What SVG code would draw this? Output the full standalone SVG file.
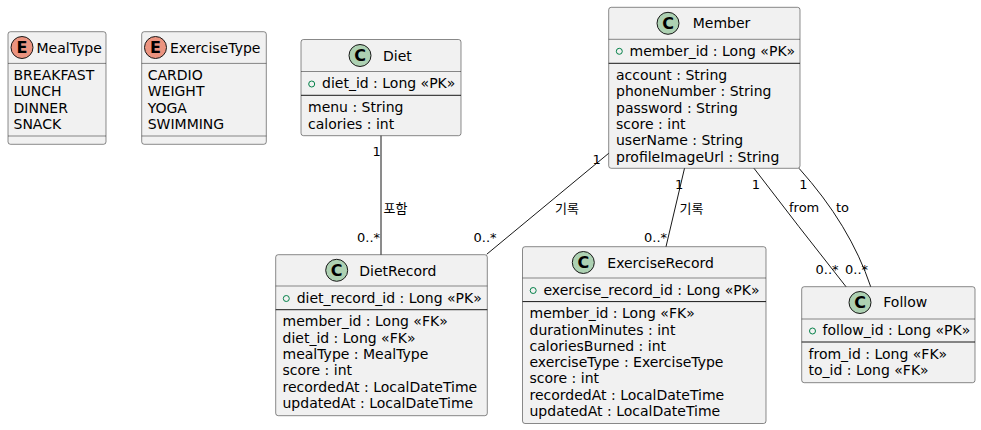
<svg xmlns="http://www.w3.org/2000/svg" width="981" height="430" viewBox="0 0 981 430">
<style>
.box{fill:#F1F1F1;stroke:#181818;stroke-width:0.5}
.sep{stroke:#181818;stroke-width:0.5}
.sepk{stroke:#181818;stroke-width:1}
.cc{fill:#ADD1B2;stroke:#181818;stroke-width:1}
.ec{fill:#EB937F;stroke:#181818;stroke-width:1}
.lt{font-family:"DejaVu Sans",sans-serif;font-size:16px;font-weight:bold;fill:#000;text-anchor:middle}
.t{font-family:"DejaVu Sans",sans-serif;font-size:14px;fill:#000}
.vis{fill:none;stroke:#038048;stroke-width:1}
.lk{fill:none;stroke:#181818;stroke-width:1}
.lb{font-family:"DejaVu Sans","Noto Sans CJK KR",sans-serif;font-size:13px;fill:#000}
</style>
<g id="MealType">
<rect class="box" x="8" y="31.7" width="98" height="112.6" rx="2.5"/>
<circle class="ec" cx="22" cy="47.5" r="11"/>
<text class="lt" x="22" y="53.3">E</text>
<text class="t" x="36.5" y="52.5">MealType</text>
<line class="sep" x1="8" y1="63.4" x2="106" y2="63.4"/>
<text class="t" x="13.5" y="80">BREAKFAST</text>
<text class="t" x="13.5" y="96.3">LUNCH</text>
<text class="t" x="13.5" y="112.6">DINNER</text>
<text class="t" x="13.5" y="128.9">SNACK</text>
<line class="sep" x1="8" y1="136" x2="106" y2="136"/>
</g>
<g id="ExerciseType">
<rect class="box" x="141.7" y="31.7" width="124.6" height="112.6" rx="2.5"/>
<circle class="ec" cx="155.5" cy="47.5" r="11"/>
<text class="lt" x="155.5" y="53.3">E</text>
<text class="t" x="170" y="52.5">ExerciseType</text>
<line class="sep" x1="141.7" y1="63.4" x2="266.3" y2="63.4"/>
<text class="t" x="147.7" y="80">CARDIO</text>
<text class="t" x="147.7" y="96.3">WEIGHT</text>
<text class="t" x="147.7" y="112.6">YOGA</text>
<text class="t" x="147.7" y="128.9">SWIMMING</text>
<line class="sep" x1="141.7" y1="136" x2="266.3" y2="136"/>
</g>
<g id="Diet">
<rect class="box" x="301" y="39.5" width="160" height="96.2" rx="2.5"/>
<circle class="cc" cx="360" cy="55.5" r="11"/>
<text class="lt" x="360" y="61.3">C</text>
<text class="t" x="383" y="60.5">Diet</text>
<line class="sep" x1="301" y1="71.5" x2="461" y2="71.5"/>
<circle class="vis" cx="311.7" cy="84" r="3"/>
<text class="t" x="322" y="88.3">diet_id : Long «PK»</text>
<line class="sepk" x1="301" y1="95.3" x2="461" y2="95.3"/>
<text class="t" x="308" y="112.3">menu : String</text>
<text class="t" x="308" y="128.6">calories : int</text>
</g>
<g id="Member">
<rect class="box" x="608.7" y="7.3" width="191.3" height="161" rx="2.5"/>
<circle class="cc" cx="668" cy="23.3" r="11"/>
<text class="lt" x="668" y="29.1">C</text>
<text class="t" x="692.7" y="28.2">Member</text>
<line class="sep" x1="608.7" y1="39.3" x2="800" y2="39.3"/>
<circle class="vis" cx="619.3" cy="51.3" r="3"/>
<text class="t" x="629.5" y="55.5">member_id : Long «PK»</text>
<line class="sepk" x1="608.7" y1="63.3" x2="800" y2="63.3"/>
<text class="t" x="616" y="80">account : String</text>
<text class="t" x="616" y="96.3">phoneNumber : String</text>
<text class="t" x="616" y="112.6">password : String</text>
<text class="t" x="616" y="128.9">score : int</text>
<text class="t" x="616" y="145.2">userName : String</text>
<text class="t" x="616" y="161.5">profileImageUrl : String</text>
</g>
<g id="DietRecord">
<rect class="box" x="275.7" y="254.7" width="211.6" height="161" rx="2.5"/>
<circle class="cc" cx="336.7" cy="270.3" r="11"/>
<text class="lt" x="336.7" y="276.1">C</text>
<text class="t" x="359.3" y="275.5">DietRecord</text>
<line class="sep" x1="275.7" y1="286" x2="487.3" y2="286"/>
<circle class="vis" cx="286.3" cy="298.5" r="3"/>
<text class="t" x="296.7" y="302.6">diet_record_id : Long «PK»</text>
<line class="sepk" x1="275.7" y1="309.7" x2="487.3" y2="309.7"/>
<text class="t" x="282.5" y="326.3">member_id : Long «FK»</text>
<text class="t" x="282.5" y="342.6">diet_id : Long «FK»</text>
<text class="t" x="282.5" y="358.9">mealType : MealType</text>
<text class="t" x="282.5" y="375.2">score : int</text>
<text class="t" x="282.5" y="391.5">recordedAt : LocalDateTime</text>
<text class="t" x="282.5" y="407.8">updatedAt : LocalDateTime</text>
</g>
<g id="ExerciseRecord">
<rect class="box" x="522.5" y="246.7" width="243.5" height="176.8" rx="2.5"/>
<circle class="cc" cx="583.3" cy="262.5" r="11"/>
<text class="lt" x="583.3" y="268.3">C</text>
<text class="t" x="607.3" y="267.6">ExerciseRecord</text>
<line class="sep" x1="522.5" y1="278" x2="766" y2="278"/>
<circle class="vis" cx="533.2" cy="290.5" r="3"/>
<text class="t" x="543.5" y="294.6">exercise_record_id : Long «PK»</text>
<line class="sepk" x1="522.5" y1="301.6" x2="766" y2="301.6"/>
<text class="t" x="529.5" y="318.2">member_id : Long «FK»</text>
<text class="t" x="529.5" y="334.5">durationMinutes : int</text>
<text class="t" x="529.5" y="350.8">caloriesBurned : int</text>
<text class="t" x="529.5" y="367.1">exerciseType : ExerciseType</text>
<text class="t" x="529.5" y="383.4">score : int</text>
<text class="t" x="529.5" y="399.7">recordedAt : LocalDateTime</text>
<text class="t" x="529.5" y="416">updatedAt : LocalDateTime</text>
</g>
<g id="Follow">
<rect class="box" x="801.7" y="286.7" width="173.3" height="96" rx="2.5"/>
<circle class="cc" cx="860" cy="302.5" r="11"/>
<text class="lt" x="860" y="308.3">C</text>
<text class="t" x="883.3" y="307.3">Follow</text>
<line class="sep" x1="801.7" y1="319" x2="975" y2="319"/>
<circle class="vis" cx="812.5" cy="331" r="3"/>
<text class="t" x="822.5" y="335.2">follow_id : Long «PK»</text>
<line class="sepk" x1="801.7" y1="342" x2="975" y2="342"/>
<text class="t" x="808.5" y="358.8">from_id : Long «FK»</text>
<text class="t" x="808.5" y="375.1">to_id : Long «FK»</text>
</g>
<g id="connectors">
<line class="lk" x1="381" y1="135.7" x2="381" y2="254.7"/>
<text class="lb" x="372.5" y="156">1</text>
<text class="lb" x="383.5" y="213">포함</text>
<text class="lb" x="357" y="241.5">0..*</text>
<line class="lk" x1="608.7" y1="153.3" x2="486.8" y2="254.2"/>
<text class="lb" x="592.5" y="163.5">1</text>
<text class="lb" x="555" y="213">기록</text>
<text class="lb" x="473.5" y="241.5">0..*</text>
<line class="lk" x1="684.5" y1="168.3" x2="666" y2="246.7"/>
<text class="lb" x="675" y="188.5">1</text>
<text class="lb" x="679.5" y="213">기록</text>
<text class="lb" x="644" y="241.5">0..*</text>
<path class="lk" d="M754,168.3 Q798,226 846,286.7"/>
<text class="lb" x="751.7" y="188.5">1</text>
<text class="lb" x="789" y="212">from</text>
<text class="lb" x="815.5" y="274">0..*</text>
<path class="lk" d="M799,168.3 Q850,225 870.7,286.7"/>
<text class="lb" x="799.3" y="188.5">1</text>
<text class="lb" x="836" y="212">to</text>
<text class="lb" x="845" y="274">0..*</text>
</g>
</svg>
